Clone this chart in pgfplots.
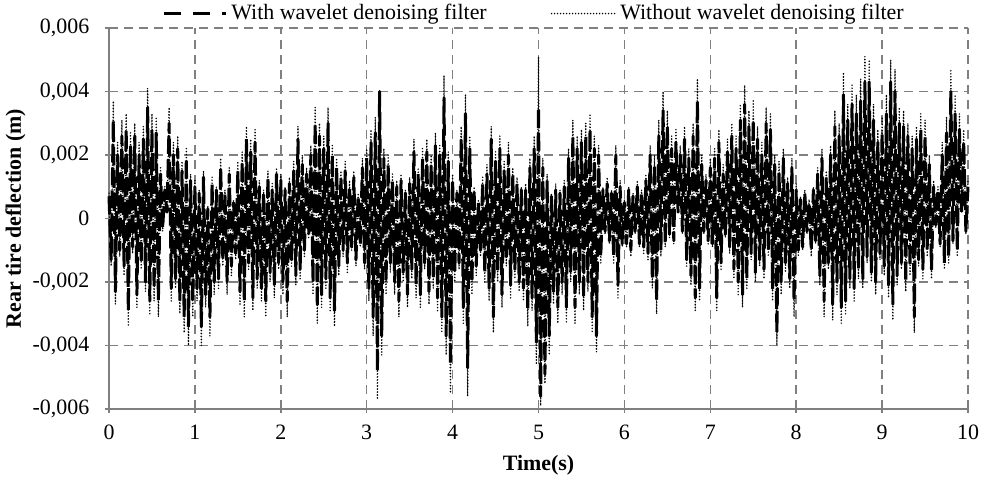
\documentclass[border=0pt]{standalone}
\usepackage{pgfplots}
\usepackage{pgfplotstable}
\pgfplotsset{compat=1.18}
\usepackage{fontspec}
\setmainfont{Liberation Serif}
\pgfplotstableread{
t wo w
0.000 0.8 0.7
0.025 -1.5 -1.3
0.050 3.7 3.1
0.075 -2.7 -2.3
0.100 2.4 2.0
0.125 -1.2 -1.0
0.150 3.1 2.6
0.175 -1.8 -1.5
0.200 3.3 2.8
0.225 -3.4 -2.9
0.250 2.7 2.3
0.275 -1.1 -0.9
0.300 3.0 2.6
0.325 -2.8 -2.4
0.350 2.4 2.0
0.375 -1.6 -1.4
0.400 2.9 2.5
0.425 -2.3 -2.0
0.450 4.1 3.5
0.475 -3.0 -2.6
0.500 3.3 2.8
0.525 -2.6 -2.2
0.550 3.2 2.7
0.575 -3.1 -2.6
0.600 1.6 1.4
0.625 -0.4 -0.3
0.650 1.0 0.9
0.675 0.2 0.2
0.700 3.5 3.0
0.725 -2.6 -2.2
0.750 2.4 2.0
0.775 -2.2 -1.9
0.800 2.6 2.2
0.825 -3.0 -2.6
0.850 1.8 1.5
0.875 -3.6 -3.1
0.900 2.2 1.9
0.925 -4.0 -3.4
0.950 1.4 1.2
0.975 -3.1 -2.6
1.000 1.2 1.0
1.025 -2.6 -2.2
1.050 0.9 0.8
1.075 -4.0 -3.4
1.100 1.5 1.3
1.125 -2.8 -2.4
1.150 0.4 0.3
1.175 -3.7 -3.1
1.200 1.3 1.1
1.225 -2.4 -2.0
1.250 1.0 0.9
1.275 -2.2 -1.9
1.300 1.9 1.6
1.325 -1.5 -1.3
1.350 0.9 0.8
1.375 -2.4 -2.0
1.400 1.6 1.4
1.425 -1.8 -1.5
1.450 0.6 0.5
1.475 -1.3 -1.1
1.500 1.8 1.5
1.525 -2.7 -2.3
1.550 2.1 1.8
1.575 -3.1 -2.6
1.600 2.9 2.5
1.625 -1.6 -1.4
1.650 2.5 2.1
1.675 -2.9 -2.5
1.700 2.8 2.4
1.725 -2.2 -1.9
1.750 1.2 1.0
1.775 -2.6 -2.2
1.800 0.9 0.8
1.825 -3.1 -2.6
1.850 1.5 1.3
1.875 -2.0 -1.7
1.900 1.1 0.9
1.925 -2.5 -2.1
1.950 1.6 1.4
1.975 -1.6 -1.4
2.000 1.4 1.2
2.025 -2.4 -2.0
2.050 1.0 0.9
2.075 -3.1 -2.6
2.100 1.3 1.1
2.125 -1.5 -1.3
2.150 1.8 1.5
2.175 -2.1 -1.8
2.200 2.9 2.5
2.225 -1.9 -1.6
2.250 2.0 1.7
2.275 -1.2 -1.0
2.300 1.6 1.4
2.325 -0.6 -0.5
2.350 2.3 2.0
2.375 -2.4 -2.0
2.400 3.5 3.0
2.425 -3.3 -2.8
2.450 3.0 2.6
2.475 -2.8 -2.4
2.500 2.6 2.2
2.525 -2.2 -1.9
2.550 3.5 3.0
2.575 -2.9 -2.5
2.600 2.3 2.0
2.625 -3.4 -2.9
2.650 1.9 1.6
2.675 -1.8 -1.5
2.700 1.5 1.3
2.725 -1.2 -1.0
2.750 1.8 1.5
2.775 -1.7 -1.4
2.800 1.2 1.0
2.825 -1.0 -0.9
2.850 1.5 1.3
2.875 -1.5 -1.3
2.900 0.8 0.7
2.925 -0.9 -0.8
2.950 1.9 1.6
2.975 -1.6 -1.4
3.000 2.2 1.9
3.025 -2.6 -2.2
3.050 2.8 2.4
3.075 -3.7 -3.1
3.100 3.2 2.7
3.125 -5.7 -4.8
3.150 4.0 4.0
3.175 -4.3 -3.7
3.200 2.2 1.9
3.225 -2.4 -2.0
3.250 2.0 1.7
3.275 -1.7 -1.4
3.300 1.4 1.2
3.325 -2.4 -2.0
3.350 1.2 1.0
3.375 -3.1 -2.6
3.400 1.4 1.2
3.425 -2.0 -1.7
3.450 0.9 0.8
3.475 -2.8 -2.4
3.500 1.3 1.1
3.525 -1.9 -1.6
3.550 2.5 2.1
3.575 -2.5 -2.1
3.600 1.6 1.4
3.625 -2.8 -2.4
3.650 2.2 1.9
3.675 -1.6 -1.4
3.700 2.5 2.1
3.725 -2.7 -2.3
3.750 2.0 1.7
3.775 -2.2 -1.9
3.800 2.7 2.3
3.825 -2.9 -2.5
3.850 2.3 2.0
3.875 -3.6 -3.1
3.900 4.5 3.8
3.925 -4.3 -3.7
3.950 2.1 1.8
3.975 -5.5 -4.6
4.000 1.4 1.2
4.025 -2.0 -1.7
4.050 0.9 0.8
4.075 -1.6 -1.4
4.100 2.9 2.5
4.125 -3.3 -2.8
4.150 3.9 3.3
4.175 -5.6 -4.7
4.200 2.6 2.2
4.225 -2.4 -2.0
4.250 1.0 0.9
4.275 -1.8 -1.5
4.300 0.6 0.5
4.325 -1.2 -1.0
4.350 1.3 1.1
4.375 -2.0 -1.7
4.400 1.7 1.4
4.425 -2.6 -2.2
4.450 2.9 2.5
4.475 -3.6 -3.1
4.500 2.1 1.8
4.525 -2.0 -1.7
4.550 2.6 2.2
4.575 -2.8 -2.4
4.600 1.8 1.5
4.625 -1.5 -1.3
4.650 2.4 2.0
4.675 -2.5 -2.1
4.700 1.6 1.4
4.725 -1.9 -1.6
4.750 1.3 1.1
4.775 -2.3 -2.0
4.800 1.0 0.9
4.825 -2.6 -2.2
4.850 1.1 0.9
4.875 -3.4 -2.9
4.900 1.9 1.6
4.925 -2.9 -2.5
4.950 2.6 2.2
4.975 -4.6 -3.9
5.000 5.1 3.5
5.025 -5.9 -5.6
5.050 1.9 1.6
5.075 -5.2 -4.9
5.100 1.4 1.2
5.125 -4.3 -3.7
5.150 0.8 0.7
5.175 -2.7 -2.3
5.200 1.1 0.9
5.225 -3.3 -2.8
5.250 0.9 0.8
5.275 -2.4 -2.0
5.300 1.2 1.0
5.325 -3.3 -2.8
5.350 2.2 1.9
5.375 -2.0 -1.7
5.400 3.1 2.6
5.425 -3.3 -2.8
5.450 2.6 2.2
5.475 -2.4 -2.0
5.500 2.8 2.4
5.525 -2.9 -2.5
5.550 3.0 2.6
5.575 -2.3 -2.0
5.600 3.3 2.8
5.625 -3.6 -3.1
5.650 2.6 2.2
5.675 -4.2 -3.7
5.700 2.3 2.0
5.725 -1.4 -1.2
5.750 1.0 0.9
5.775 -0.5 -0.4
5.800 1.3 1.1
5.825 -0.8 -0.7
5.850 0.9 0.8
5.875 -1.4 -1.2
5.900 2.3 2.0
5.925 -2.5 -2.1
5.950 1.2 1.0
5.975 -0.9 -0.8
6.000 0.6 0.5
6.025 -0.9 -0.8
6.050 1.0 0.9
6.075 -1.2 -1.0
6.100 0.8 0.7
6.125 -0.5 -0.4
6.150 1.2 1.0
6.175 -0.9 -0.8
6.200 0.9 0.8
6.225 -1.1 -0.9
6.250 1.4 1.2
6.275 -1.3 -1.1
6.300 2.3 2.0
6.325 -2.2 -1.9
6.350 2.0 1.7
6.375 -3.0 -2.6
6.400 3.1 2.6
6.425 -1.2 -1.0
6.450 4.0 3.4
6.475 -0.9 -0.8
6.500 3.4 2.9
6.525 -0.6 -0.5
6.550 2.6 2.2
6.575 -0.8 -0.7
6.600 2.8 2.4
6.625 0.2 0.2
6.650 2.3 2.0
6.675 -0.5 -0.4
6.700 2.9 2.5
6.725 -1.5 -1.3
6.750 2.2 1.9
6.775 -2.1 -1.8
6.800 3.0 2.6
6.825 -2.9 -2.5
6.850 4.4 3.7
6.875 -2.6 -2.2
6.900 2.0 1.7
6.925 -0.5 -0.4
6.950 1.4 1.2
6.975 -0.8 -0.7
7.000 1.9 1.6
7.025 -0.9 -0.8
7.050 2.2 1.9
7.075 -2.9 -2.5
7.100 2.8 2.4
7.125 -1.6 -1.4
7.150 1.7 1.4
7.175 -0.6 -0.5
7.200 2.5 2.1
7.225 -1.1 -0.9
7.250 3.0 2.6
7.275 -1.9 -1.6
7.300 2.6 2.2
7.325 -2.4 -2.0
7.350 3.6 3.1
7.375 -2.8 -2.4
7.400 4.2 3.6
7.425 -2.2 -1.9
7.450 3.4 2.9
7.475 -1.3 -1.1
7.500 3.7 3.1
7.525 -2.0 -1.7
7.550 2.9 2.5
7.575 -1.5 -1.3
7.600 2.4 2.0
7.625 -1.9 -1.6
7.650 3.5 3.0
7.675 -1.2 -1.0
7.700 3.3 2.8
7.725 -2.6 -2.2
7.750 2.0 1.7
7.775 -4.0 -3.6
7.800 1.8 1.5
7.825 -2.4 -2.0
7.850 2.2 1.9
7.875 -1.7 -1.4
7.900 1.3 1.1
7.925 -2.2 -1.9
7.950 1.9 1.6
7.975 -3.1 -2.6
8.000 1.1 0.9
8.025 -1.2 -1.0
8.050 0.7 0.6
8.075 -1.0 -0.9
8.100 0.9 0.8
8.125 -0.5 -0.4
8.150 0.6 0.5
8.175 -1.2 -1.0
8.200 1.0 0.9
8.225 -0.8 -0.7
8.250 1.6 1.4
8.275 -2.1 -1.8
8.300 2.2 1.9
8.325 -3.1 -2.6
8.350 1.5 1.3
8.375 -1.6 -1.4
8.400 2.3 2.0
8.425 -3.2 -2.7
8.450 3.4 2.9
8.475 -2.4 -2.0
8.500 3.0 2.6
8.525 -3.3 -2.8
8.550 4.6 3.9
8.575 -3.0 -2.6
8.600 3.6 3.1
8.625 -2.2 -1.9
8.650 4.2 3.6
8.675 -2.6 -2.2
8.700 3.9 3.3
8.725 -1.9 -1.6
8.750 4.4 3.7
8.775 -2.2 -1.9
8.800 5.1 4.3
8.825 -1.4 -1.2
8.850 5.0 4.3
8.875 -2.0 -1.7
8.900 3.6 3.1
8.925 -2.4 -2.0
8.950 2.8 2.4
8.975 -1.3 -1.1
9.000 3.2 2.7
9.025 -1.8 -1.5
9.050 3.9 3.3
9.075 -2.5 -2.1
9.100 5.0 4.3
9.125 -3.2 -2.7
9.150 4.7 4.0
9.175 -2.1 -1.8
9.200 3.5 3.0
9.225 -1.6 -1.4
9.250 3.4 2.9
9.275 -2.3 -2.0
9.300 3.0 2.6
9.325 -1.8 -1.5
9.350 2.6 2.2
9.375 -3.6 -3.1
9.400 2.9 2.5
9.425 -1.5 -1.3
9.450 3.3 2.8
9.475 -1.9 -1.6
9.500 3.1 2.6
9.525 -1.2 -1.0
9.550 2.0 1.7
9.575 -1.9 -1.6
9.600 1.2 1.0
9.625 -0.3 -0.2
9.650 1.0 0.9
9.675 -0.9 -0.8
9.700 2.4 2.0
9.725 -1.6 -1.4
9.750 3.2 2.7
9.775 -1.4 -1.2
9.800 4.7 4.0
9.825 -0.8 -0.7
9.850 3.9 3.3
9.875 -1.2 -1.0
9.900 3.3 2.8
9.925 0.2 0.2
9.950 2.8 2.4
9.975 -0.5 -0.4
10.000 1.2 1.0
}\datatable
\definecolor{axgray}{RGB}{128,128,128}
\begin{document}
\begin{tikzpicture}
\fontsize{11}{13}\selectfont
\begin{axis}[
  name=ax,
  scale only axis,
  width=429.5bp, height=190.5bp,
  xmin=0, xmax=10, ymin=-0.006, ymax=0.006,
  xtick={0,1,...,10},
  ytick={-0.006,-0.004,-0.002,0,0.002,0.004,0.006},
  yticklabels={{-0,006},{-0,004},{-0,002},0,{0,002},{0,004},{0,006}},
  scaled y ticks=false,
  /pgf/number format/assume math mode=true,
  axis x line*=bottom, axis y line*=left,
  axis line style={axgray, line width=0.8pt, -},
  tick align=center, major tick length=4bp,
  tick style={axgray, line width=0.8pt},
  grid=major,
  major grid style={axgray, line width=0.8pt, dash pattern=on 4.5bp off 3bp},
  ticklabel style={font=\fontsize{11}{13}\selectfont, text=black},
  xticklabel style={yshift=-2bp},
  yticklabel style={xshift=-4bp},
  xlabel={\textbf{Time(s)}},
  ylabel={\textbf{Rear tire deflection (m)}},
  label style={font=\fontsize{11}{13}\selectfont},
  xlabel style={at={(axis description cs:0.5,-0.147)}, anchor=center},
  ylabel style={at={(axis description cs:-0.109,0.5)}, anchor=center},
  legend columns=2,
  legend style={at={(axis description cs:0.496,1.038)}, anchor=center, draw=none, fill=none,
    font=\fontsize{11}{13}\selectfont, /tikz/every even column/.append style={column sep=30bp},
    inner sep=0pt},
  clip=false,
]
\addplot[black, line width=1.5pt, line join=round, dash pattern=on 9bp off 2.5bp,
  legend image code/.code={\draw[black, line width=1.5pt, dash pattern=on 8.5bp off 6bp] (0bp,0bp) -- (31bp,0bp);}]
  table[x=t, y expr=\thisrow{w}/1000] {\datatable};
\addlegendentry{With wavelet denoising filter}
\addplot[black, line width=0.8pt, line join=round, line cap=round, dash pattern=on 0pt off 1.5bp,
  legend image code/.code={\draw[black, line width=0.8pt, line cap=round, dash pattern=on 0pt off 1.5bp] (0bp,0bp) -- (32bp,0bp);}]
  table[x=t, y expr=\thisrow{wo}/1000] {\datatable};
\addlegendentry{Without wavelet denoising filter}
\end{axis}
\pgfresetboundingbox
\path ([shift={(-54.5bp,-36.5bp)}]ax.south west) rectangle ([shift={(9.5bp,14bp)}]ax.north east);
\end{tikzpicture}
\end{document}
